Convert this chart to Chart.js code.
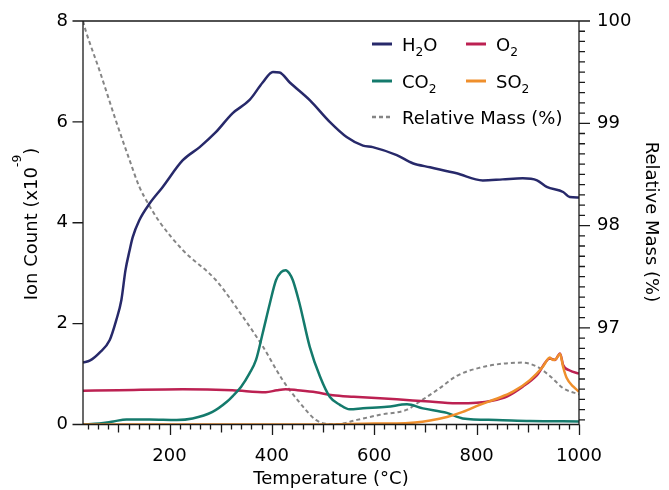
<!DOCTYPE html>
<html><head><meta charset="utf-8">
<script src="https://cdn.jsdelivr.net/npm/chart.js@4"></script>
<style>html,body{margin:0;padding:0;background:#fff}#wrap{width:669px;height:490px}</style>
</head><body><div id="wrap"><canvas id="c" width="669" height="490"></canvas></div>
<script>
// ---- data ----
const h2oT = [31,45,63,83,96,106,114,122,128,141,161,186,226,259,290,323,356,382,402,415,435,474,513,546,578,597,644,675,709,761,812,851,890,918,937,969,982,1000];
const h2oV = [1.23,1.27,1.42,1.67,2.07,2.47,3.06,3.45,3.71,4.05,4.38,4.70,5.24,5.50,5.79,6.17,6.43,6.78,6.99,6.98,6.78,6.43,6.00,5.70,5.53,5.50,5.34,5.18,5.10,4.98,4.84,4.86,4.88,4.84,4.71,4.61,4.51,4.50];

const o2T = [31,100,226,323,388,410,427,450,486,519,560,644,700,761,800,830,860,890,918,943,953,963,969,982,1000];
const o2V = [0.67,0.68,0.70,0.68,0.64,0.68,0.70,0.68,0.64,0.58,0.55,0.50,0.46,0.42,0.43,0.47,0.56,0.75,0.98,1.31,1.28,1.41,1.18,1.07,1.01];

const co2T = [31,63,90,116,161,214,245,284,312,325,340,356,369,382,396,408,418,427,434,441,454,474,494,513,533,552,578,625,664,695,742,773,839,904,1000];
const co2V = [0.00,0.02,0.06,0.10,0.10,0.09,0.12,0.25,0.45,0.58,0.75,1.01,1.28,1.81,2.40,2.86,3.02,3.06,3.00,2.86,2.40,1.54,0.95,0.55,0.39,0.30,0.32,0.35,0.40,0.32,0.23,0.12,0.09,0.07,0.06];

const so2T = [31,500,600,644,680,709,742,773,806,839,871,904,929,943,949,955,963,969,976,989,1000];
const so2V = [0.00,0.00,0.02,0.02,0.04,0.08,0.15,0.25,0.39,0.51,0.65,0.88,1.14,1.33,1.28,1.30,1.40,1.14,0.92,0.75,0.65];

const rmT = [31,36,63,95,122,141,160,180,226,290,343,382,421,454,486,510,530,566,611,664,689,728,761,806,851,890,918,943,969,1000];
const rmV = [100.0,99.91,99.52,99.03,98.64,98.38,98.20,98.04,97.76,97.47,97.11,96.82,96.49,96.27,96.10,96.06,96.06,96.10,96.15,96.20,96.28,96.41,96.53,96.61,96.65,96.66,96.62,96.53,96.41,96.35];

const xTickLabels = [200,400,600,800,1000];
const leftTickLabels = [0,2,4,6,8];
const rightTickLabels = [97,98,99,100];

const FONT = '"DejaVu Sans", Verdana, sans-serif';
const COL = {h2o:'#27296a', o2:'#bc2152', co2:'#147a6c', so2:'#ef8f2c', rm:'#858585', axis:'#1a1a1a'};

function pts(t, v){ return t.map((x,i)=>({x:x, y:v[i]})); }

function drawRich(ctx, parts, x, y, size){
  for (const p of parts){
    const s = (p.sub||p.sup) ? size*0.68 : size;
    ctx.font = s + 'px ' + FONT;
    const dy = p.sub ? 5.5 : (p.sup ? -16 : 0);
    ctx.fillText(p.t, x, y + dy);
    x += ctx.measureText(p.t).width;
  }
  return x;
}
function richWidth(ctx, parts, size){
  let w = 0;
  for (const p of parts){
    ctx.font = ((p.sub||p.sup) ? size*0.68 : size) + 'px ' + FONT;
    w += ctx.measureText(p.t).width;
  }
  return w;
}

const framePlugin = {
  id:'frame',
  afterDraw(chart){
    const ctx = chart.ctx;
    const a = chart.chartArea;
    const xs = chart.scales.x, yl = chart.scales.y, yr = chart.scales.y2;
    ctx.save();
    ctx.strokeStyle = COL.axis; ctx.lineWidth = 1.3; ctx.lineCap='butt';
    ctx.beginPath();
    ctx.moveTo(a.left, a.top); ctx.lineTo(a.right, a.top);
    ctx.moveTo(a.left, a.top); ctx.lineTo(a.left, a.bottom);
    ctx.moveTo(a.left, a.bottom); ctx.lineTo(a.right, a.bottom);
    ctx.moveTo(a.right, a.top); ctx.lineTo(a.right, a.bottom);
    for (let v = 40; v <= 1000; v += 20){
      const px = Math.round(xs.getPixelForValue(v)) + 0.5;
      const len = (v % 200 === 0) ? 10.5 : (v % 100 === 0 ? 8 : 5);
      ctx.moveTo(px, a.bottom); ctx.lineTo(px, a.bottom + len);
    }
    for (const v of leftTickLabels){
      const py = yl.getPixelForValue(v);
      ctx.moveTo(a.left, py); ctx.lineTo(a.left - 10.5, py);
    }
    for (let k = 961; k <= 1000; k++){
      const v = k/10;
      const py = yr.getPixelForValue(v);
      const len = (k % 10 === 0) ? 11 : 6;
      ctx.moveTo(a.right, py); ctx.lineTo(a.right + len, py);
    }
    ctx.stroke();

    ctx.fillStyle = '#000';
    ctx.textBaseline = 'alphabetic';
    ctx.textAlign = 'left';
    const size = 18;
    const bt = [{t:'Temperature (°C)'}];
    let w = richWidth(ctx, bt, size);
    drawRich(ctx, bt, (a.left + a.right)/2 - w/2, 484, size);
    const lt = [{t:'Ion Count (x10'},{t:'-9',sup:true},{t:')'}];
    w = richWidth(ctx, lt, size);
    ctx.save();
    ctx.translate(37, 224);
    ctx.rotate(-Math.PI/2);
    drawRich(ctx, lt, -w/2, 0, size);
    ctx.restore();
    const rt = [{t:'Relative Mass (%)'}];
    w = richWidth(ctx, rt, size);
    ctx.save();
    ctx.translate(646, 222);
    ctx.rotate(Math.PI/2);
    drawRich(ctx, rt, -w/2, 0, size);
    ctx.restore();

    const items = [
      {c:COL.h2o, x:372, y:44, parts:[{t:'H'},{t:'2',sub:true},{t:'O'}]},
      {c:COL.o2, x:466, y:44, parts:[{t:'O'},{t:'2',sub:true}]},
      {c:COL.co2, x:372, y:81, parts:[{t:'CO'},{t:'2',sub:true}]},
      {c:COL.so2, x:466, y:81, parts:[{t:'SO'},{t:'2',sub:true}]},
      {c:COL.rm, x:372, y:117, dash:true, parts:[{t:'Relative Mass (%)'}]}
    ];
    for (const it of items){
      ctx.save();
      ctx.strokeStyle = it.c;
      ctx.lineWidth = it.dash ? 2.5 : 3;
      if (it.dash) ctx.setLineDash([4,3]);
      ctx.beginPath(); ctx.moveTo(it.x, it.y); ctx.lineTo(it.x + 20, it.y); ctx.stroke();
      ctx.restore();
      ctx.fillStyle = '#000';
      drawRich(ctx, it.parts, it.x + 30, it.y + 6.5, size);
    }
    ctx.restore();
  }
};

const common = {pointRadius:0, borderWidth:2.5, fill:false, cubicInterpolationMode:'monotone'};
const tickFont = {family: FONT, size: 18};
function noPad(s){ s.paddingTop = 0; s.paddingBottom = 0; s.paddingLeft = 0; s.paddingRight = 0; }
const plainLabel = v => String(v);

new Chart(document.getElementById('c'), {
  type:'line',
  data:{datasets:[
    Object.assign({label:'SO2', data:pts(so2T, so2V), yAxisID:'y', borderColor:COL.so2}, common),
    Object.assign({label:'CO2', data:pts(co2T, co2V), yAxisID:'y', borderColor:COL.co2}, common),
    Object.assign({label:'O2', data:pts(o2T, o2V), yAxisID:'y', borderColor:COL.o2}, common),
    Object.assign({label:'H2O', data:pts(h2oT, h2oV), yAxisID:'y', borderColor:COL.h2o}, common),
    Object.assign({}, common, {label:'Relative Mass (%)', data:pts(rmT, rmV), yAxisID:'y2', borderColor:COL.rm, borderDash:[4,3], borderWidth:2})
  ]},
  options:{
    responsive:false, animation:false, events:[],
    layout:{padding:{top:21, left:0, right:0, bottom:0}},
    plugins:{legend:{display:false}, tooltip:{enabled:false}},
    scales:{
      x:{type:'linear', position:'bottom', min:31, max:1000,
         afterBuildTicks:s=>{ s.ticks = xTickLabels.map(v=>({value:v})); },
         afterFit:s=>{ s.height = 65.5; noPad(s); },
         grid:{display:false, drawTicks:false}, border:{display:false},
         ticks:{padding:21, font:tickFont, color:'#000', maxRotation:0, autoSkip:false, callback:plainLabel}},
      y:{type:'linear', position:'left', min:0, max:8,
         afterBuildTicks:s=>{ s.ticks = leftTickLabels.map(v=>({value:v})); },
         afterFit:s=>{ s.width = 83; noPad(s); },
         grid:{display:false, drawTicks:false}, border:{display:false},
         ticks:{padding:15, font:tickFont, color:'#000', autoSkip:false, callback:plainLabel}},
      y2:{type:'linear', position:'right', min:96.055, max:100,
         afterBuildTicks:s=>{ s.ticks = rightTickLabels.map(v=>({value:v})); },
         afterFit:s=>{ s.width = 90; noPad(s); },
         grid:{display:false, drawTicks:false}, border:{display:false},
         ticks:{padding:18, font:tickFont, color:'#000', autoSkip:false, callback:plainLabel}}
    }
  },
  plugins:[framePlugin]
});
</script>
</body></html>
